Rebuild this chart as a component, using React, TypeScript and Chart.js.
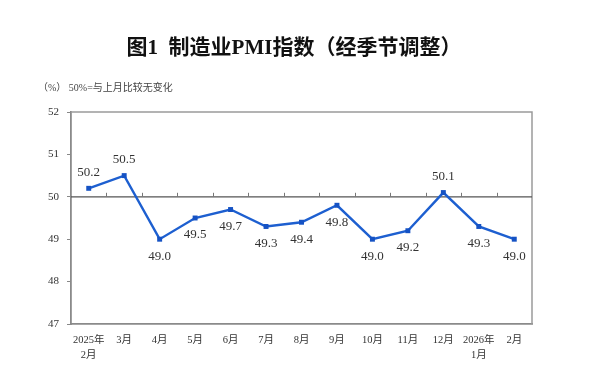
import React, { useEffect, useRef } from "react";
import { Chart, registerables } from "chart.js";

Chart.register(...registerables);

const titleText = "图1  制造业PMI指数（经季节调整）";
const noteText = "（%） 50%=与上月比较无变化";
const categories: (string | string[])[] = [
  ["2025年", "2月"], "3月", "4月", "5月", "6月", "7月", "8月", "9月", "10月", "11月", "12月", ["2026年", "1月"], "2月",
];
const pmiValues = [50.2, 50.5, 49.0, 49.5, 49.7, 49.3, 49.4, 49.8, 49.0, 49.2, 50.1, 49.3, 49.0];
const yTicks = [47, 48, 49, 50, 51, 52];
const baseline = 50;

const SERIF = '"Liberation Serif", "Noto Sans CJK SC", serif';

const decorPlugin = {
  id: "decor",
  beforeDatasetsDraw(chart: any) {
    const { ctx, chartArea, scales } = chart;
    const x = scales.x;
    const y = scales.y;
    ctx.save();
    ctx.strokeStyle = "#9a9a9a";
    ctx.lineWidth = 1.5;
    ctx.beginPath();
    ctx.moveTo(chartArea.left, chartArea.top);
    ctx.lineTo(chartArea.right, chartArea.top);
    ctx.lineTo(chartArea.right, chartArea.bottom);
    ctx.stroke();
    const yb = y.getPixelForValue(baseline);
    ctx.strokeStyle = "#555";
    ctx.lineWidth = 1.2;
    ctx.beginPath();
    ctx.moveTo(chartArea.left, yb);
    ctx.lineTo(chartArea.right, yb);
    ctx.stroke();
    ctx.strokeStyle = "#777";
    ctx.lineWidth = 1;
    for (let i = 0; i < categories.length - 1; i++) {
      const xm = Math.round((x.getPixelForValue(i) + x.getPixelForValue(i + 1)) / 2) + 0.5;
      ctx.beginPath();
      ctx.moveTo(xm, yb);
      ctx.lineTo(xm, yb - 4);
      ctx.stroke();
    }
    ctx.restore();
  },
  afterDraw(chart: any) {
    const { ctx } = chart;
    ctx.save();
    ctx.fillStyle = "#111";
    ctx.font = 'bold 21px "Liberation Serif", "Noto Sans CJK SC", sans-serif';
    ctx.textAlign = "center";
    ctx.textBaseline = "middle";
    ctx.fillText(titleText, 294, 49);
    ctx.fillStyle = "#444";
    ctx.font = '10px ' + SERIF;
    ctx.textAlign = "left";
    ctx.fillText(noteText, 38, 88);
    const meta = chart.getDatasetMeta(0);
    ctx.fillStyle = "#333";
    ctx.font = '13px ' + SERIF;
    ctx.textAlign = "center";
    meta.data.forEach((pt: any, i: number) => {
      const v = pmiValues[i];
      const above = v >= baseline;
      ctx.fillText(v.toFixed(1), pt.x, above ? pt.y - 16 : pt.y + 17);
    });
    ctx.restore();
  },
};

export default function App() {
  const ref = useRef<HTMLCanvasElement>(null);
  useEffect(() => {
    if (!ref.current) return;
    const chart = new Chart(ref.current, {
      type: "line",
      data: {
        labels: categories,
        datasets: [
          {
            data: pmiValues,
            borderColor: "#1d5fd0",
            backgroundColor: "#1552c4",
            borderWidth: 2.4,
            pointStyle: "rect",
            pointRadius: 3.5,
            pointBorderWidth: 0,
            tension: 0,
          },
        ],
      },
      options: {
        responsive: false,
        animation: false,
        layout: { padding: { top: 112, left: 30, right: 68, bottom: 4 } },
        plugins: {
          legend: { display: false },
          tooltip: { enabled: false },
          title: { display: false },
        },
        scales: {
          x: {
            offset: true,
            grid: { display: false, offset: true, drawTicks: false, tickLength: 0 },
            border: { color: "#8a8a8a", width: 1.8 },
            afterFit: (s: any) => {
              s.height = 39;
            },
            ticks: {
              color: "#333",
              font: { family: SERIF, size: 10.5, lineHeight: 1.4 },
              padding: 9,
              maxRotation: 0,
              autoSkip: false,
            },
          },
          y: {
            min: 47,
            max: 52,
            afterBuildTicks: (s: any) => {
              s.ticks = yTicks.map((v) => ({ value: v }));
            },
            afterFit: (s: any) => {
              s.width = 41;
            },
            grid: { drawOnChartArea: false, drawTicks: true, tickLength: 4, color: "#888" },
            border: { color: "#8a8a8a", width: 1.8 },
            ticks: {
              color: "#333",
              font: { family: SERIF, size: 11 },
              padding: 8,
            },
          },
        },
      },
      plugins: [decorPlugin],
    });
    return () => chart.destroy();
  }, []);
  return (
    <div style={{ position: "fixed", left: 0, top: 0, width: 600, height: 367, background: "#fff" }}>
      <canvas ref={ref} width={600} height={367} />
    </div>
  );
}
